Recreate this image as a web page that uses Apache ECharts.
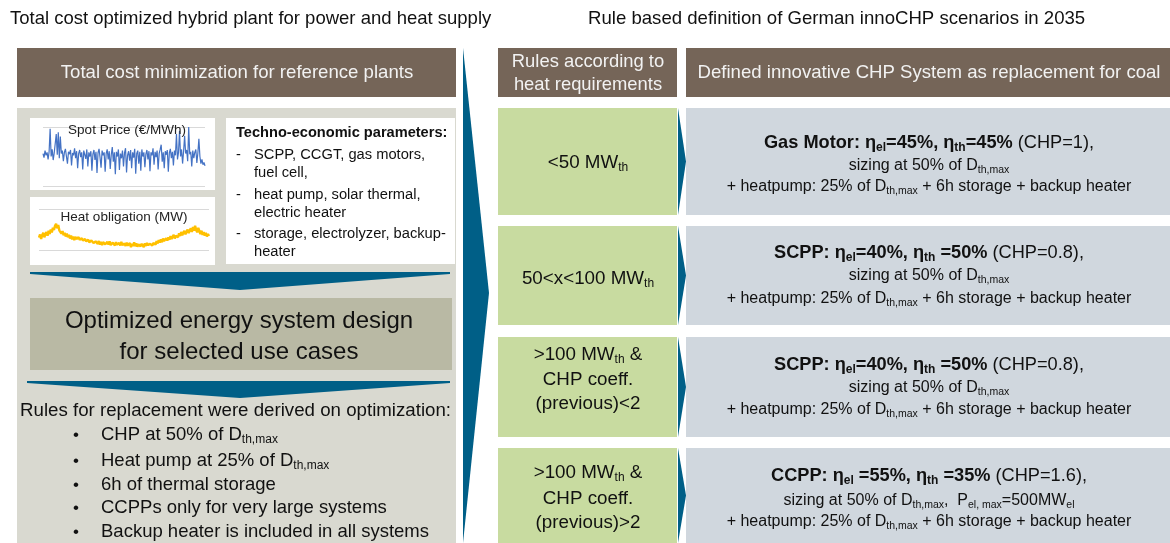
<!DOCTYPE html>
<html>
<head>
<meta charset="utf-8">
<script src="https://cdn.jsdelivr.net/npm/echarts@6/dist/echarts.min.js"></script>
<style>
  html, body { margin: 0; padding: 0; background: #fff; }
  #main { width: 1170px; height: 543px; }
</style>
</head>
<body>
<div id="main"></div>
<script>
// spot price profile (relative, 0..100 between the two grid lines)
var spotPrice = [
  55,48,60,52,57,45,58,97,50,62,44,56,59,88,53,91,47,84,55,60,
  42,57,63,50,38,58,54,61,35,56,52,64,47,59,30,55,61,49,57,28,
  60,53,46,62,33,57,50,59,26,54,61,44,58,22,56,63,48,31,60,52,
  57,24,55,62,45,59,29,53,66,41,57,20,58,50,62,27,55,47,60,33,
  56,64,23,52,59,43,61,30,57,48,63,21,55,60,38,58,26,62,50,57,
  32,54,61,45,59,25,57,52,64,36,58,49,60,28,55,62,70,41,57,30,
  59,53,61,24,56,63,47,58,35,60,52,88,45,57,93,50,62,38,59,85,
  55,61,42,100,54,58,33,60,47,57,62,39,56,80,50,38,45,36,40,34
];
// heat obligation profile (relative, 0..100)
var heatDemand = [
  30,38,27,36,42,31,39,44,35,47,39,50,43,54,49,59,64,53,61,48,
  49,40,46,36,42,33,40,31,37,28,35,26,33,24,32,27,23,31,25,21,
  29,23,19,27,21,17,25,19,15,23,26,17,13,21,24,15,22,13,20,12,
  19,23,14,11,20,13,21,12,10,18,22,11,19,13,9,17,11,20,12,8,
  16,10,18,11,9,17,7,15,10,19,9,16,8,14,18,9,15,11,7,16,
  10,17,12,8,15,19,11,17,20,13,22,16,24,18,26,19,28,22,21,29,
  23,31,25,34,27,32,37,28,35,39,31,41,34,44,36,42,47,38,45,50,
  41,48,53,44,56,47,59,49,43,54,46,39,47,37,44,35,42,33,39,34
];

var heatRules = [
  '<50 MW{sub|th}',
  '50<x<100 MW{sub|th}',
  '>100 MW{sub|th} &\nCHP coeff.\n(previous)<2',
  '>100 MW{sub|th} &\nCHP coeff.\n(previous)>2'
];
var chpSystems = [
  ['{b|Gas Motor: η}{bs|el}{b|=45%, η}{bs|th}{b|=45%}{r| (CHP=1),}',
   'sizing at 50% of D{ss|th,max}',
   '+ heatpump: 25% of D{ss|th,max} + 6h storage + backup heater'],
  ['{b|SCPP: η}{bs|el}{b|=40%, η}{bs|th}{b| =50%}{r| (CHP=0.8),}',
   'sizing at 50% of D{ss|th,max}',
   '+ heatpump: 25% of D{ss|th,max} + 6h storage + backup heater'],
  ['{b|SCPP: η}{bs|el}{b|=40%, η}{bs|th}{b| =50%}{r| (CHP=0.8),}',
   'sizing at 50% of D{ss|th,max}',
   '+ heatpump: 25% of D{ss|th,max} + 6h storage + backup heater'],
  ['{b|CCPP: η}{bs|el}{b| =55%, η}{bs|th}{b| =35%}{r| (CHP=1.6),}',
   'sizing at 50% of D{ss|th,max},  P{ss|el, max}=500MW{ss|el}',
   '+ heatpump: 25% of D{ss|th,max} + 6h storage + backup heater']
];
var replacementRules = [
  'CHP at 50% of D{sub|th,max}',
  'Heat pump at 25% of D{sub|th,max}',
  '6h of thermal storage',
  'CCPPs only for very large systems',
  'Backup heater is included in all systems'
];
var techParams = [
  ['SCPP, CCGT, gas motors,', 'fuel cell,'],
  ['heat pump, solar thermal,', 'electric heater'],
  ['storage, electrolyzer, backup-', 'heater']
];

var FF = '"Liberation Sans", Arial, sans-serif';
var BROWN = '#756558', BLUE = '#005f87', GREEN = '#c8dba0', GREY = '#d0d7de';
var PANEL = '#d9d9d0', OLIVE = '#b9b9a4';

var rows = [[108, 215], [226, 325], [337, 437], [448, 543]];
var rowLines = [[143, 166, 187], [253, 276, 299], [365, 388, 410], [476, 501, 522]];
var greenLines = [[163], [279], [355, 380, 404], [473, 499, 523]];

var subRich = {
  sub: { fontSize: 12, fontFamily: FF, padding: [10, 0, 0, 0] },
  b: { fontSize: 18.2, fontWeight: 'bold', fontFamily: FF },
  bs: { fontSize: 12, fontWeight: 'bold', fontFamily: FF, padding: [10, 0, 0, 0] },
  r: { fontSize: 18.2, fontFamily: FF },
  ss: { fontSize: 10.5, fontFamily: FF, padding: [9, 0, 0, 0] }
};

function rect(x, y, w, h, color) {
  return { type: 'rect', z: -5, shape: { x: x, y: y, width: w, height: h }, style: { fill: color } };
}
function txt(x, y, text, size, opts) {
  opts = opts || {};
  return {
    type: 'text', z: 50, x: x, y: y,
    style: {
      text: text, fontSize: size, fontFamily: FF, fontWeight: opts.bold ? 'bold' : 'normal',
      fill: opts.color || '#111', align: opts.align || 'left', verticalAlign: 'middle',
      rich: subRich
    }
  };
}
function poly(points, color) {
  return { type: 'polygon', z: -4, shape: { points: points }, style: { fill: color } };
}

var els = [];
// titles
els.push(txt(10, 19, 'Total cost optimized hybrid plant for power and heat supply', 18.5));
els.push(txt(588, 19, 'Rule based definition of German innoCHP scenarios in 2035', 18.6));
// left column
els.push(rect(17, 48, 439, 49, BROWN));
els.push(txt(237, 73, 'Total cost minimization for reference plants', 18.6, { color: '#f2f2f2', align: 'center' }));
els.push(rect(17, 108, 439, 435, PANEL));
els.push(rect(30, 118, 185, 72, '#fff'));
els.push(rect(30, 197, 185, 68, '#fff'));
els.push(rect(226, 118, 229, 146, '#fff'));
els.push(txt(127, 130, 'Spot Price (€/MWh)', 13.5, { align: 'center', color: '#222' }));
els.push(txt(124, 217, 'Heat obligation (MW)', 13.5, { align: 'center', color: '#222' }));
els.push(txt(236, 133, 'Techno-economic parameters:', 14.6, { bold: true }));
var ty = [[155, 173], [195, 213], [234, 252]];
techParams.forEach(function (p, i) {
  els.push(txt(236, ty[i][0], '-', 14.6));
  els.push(txt(254, ty[i][0], p[0], 14.7));
  els.push(txt(254, ty[i][1], p[1], 14.7));
});
els.push(poly([[30, 272], [450, 272], [450, 274], [240, 290], [30, 274]], BLUE));
els.push(rect(30, 298, 422, 72, OLIVE));
els.push(txt(239, 321, 'Optimized energy system design', 24, { align: 'center' }));
els.push(txt(239, 352, 'for selected use cases', 24, { align: 'center' }));
els.push(poly([[27, 381], [450, 381], [450, 383], [240, 398], [27, 383]], BLUE));
els.push(txt(20, 411, 'Rules for replacement were derived on optimization:', 18.7));
var ry = [435, 461, 485, 508, 532];
replacementRules.forEach(function (r, i) {
  els.push(txt(73, ry[i], '•', 17));
  els.push(txt(101, ry[i], r, 18.5));
});
// big arrow
els.push(poly([[463, 48], [489, 293], [463, 543]], BLUE));
// right columns
els.push(rect(498, 48, 179, 49, BROWN));
els.push(txt(588, 62, 'Rules according to', 18.4, { color: '#f2f2f2', align: 'center' }));
els.push(txt(588, 85, 'heat requirements', 18.4, { color: '#f2f2f2', align: 'center' }));
els.push(rect(686, 48, 484, 49, BROWN));
els.push(txt(929, 73, 'Defined innovative CHP System as replacement for coal', 18.6, { color: '#f2f2f2', align: 'center' }));
rows.forEach(function (r, i) {
  els.push(rect(498, r[0], 179, r[1] - r[0], GREEN));
  els.push(rect(686, r[0], 484, r[1] - r[0], GREY));
  els.push(poly([[678, r[0]], [686, (r[0] + r[1]) / 2], [678, r[1]]], BLUE));
  heatRules[i].split('\n').forEach(function (line, k) {
    els.push(txt(588, greenLines[i][k], line, 18.8, { align: 'center' }));
  });
  chpSystems[i].forEach(function (line, k) {
    els.push(txt(929, rowLines[i][k], line, k === 0 ? 18.2 : 16, { align: 'center' }));
  });
});

var xs = spotPrice.map(function (v, i) { return i; });
var hs = heatDemand.map(function (v, i) { return i; });

var chart = echarts.init(document.getElementById('main'));
var option = {
  backgroundColor: '#fff',
  animation: false,
  grid: [
    { left: 43, top: 127, width: 162, height: 59 },
    { left: 39, top: 209, width: 170, height: 41 }
  ],
  xAxis: [
    { gridIndex: 0, type: 'category', data: xs, boundaryGap: false, show: false },
    { gridIndex: 1, type: 'category', data: hs, boundaryGap: false, show: false }
  ],
  yAxis: [
    { gridIndex: 0, type: 'value', min: 0, max: 100, interval: 100, z: 1,
      axisLabel: { show: false }, axisLine: { show: false }, axisTick: { show: false },
      splitLine: { lineStyle: { color: '#d9d9d9', width: 1 } } },
    { gridIndex: 1, type: 'value', min: 0, max: 100, interval: 100, z: 1,
      axisLabel: { show: false }, axisLine: { show: false }, axisTick: { show: false },
      splitLine: { lineStyle: { color: '#d9d9d9', width: 1 } } }
  ],
  series: [
    { type: 'line', xAxisIndex: 0, yAxisIndex: 0, data: spotPrice, showSymbol: false, z: 3,
      lineStyle: { color: '#4472c4', width: 1.2 } },
    { type: 'line', xAxisIndex: 1, yAxisIndex: 1, data: heatDemand, showSymbol: false, z: 3,
      lineStyle: { color: '#ffc000', width: 2.4 } }
  ],
  graphic: { elements: els }
};
chart.setOption(option);
</script>
</body>
</html>
